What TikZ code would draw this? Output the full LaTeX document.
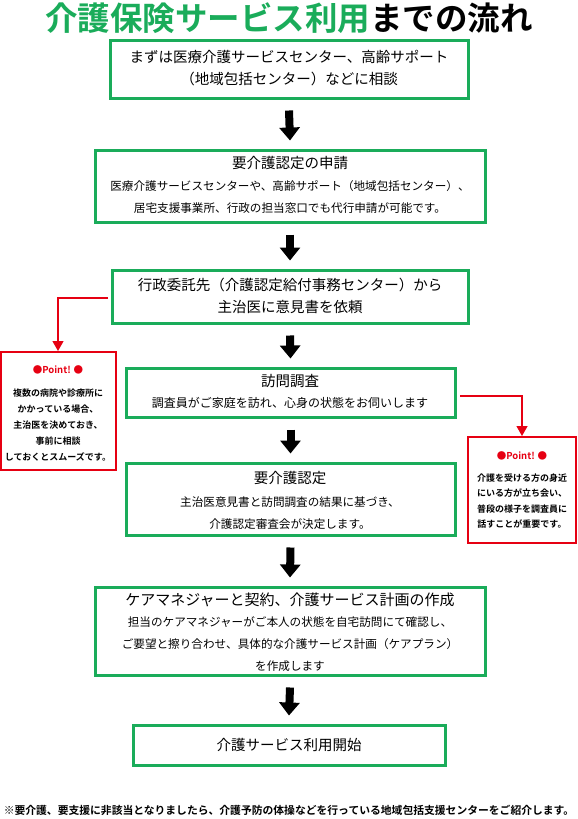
\documentclass[tikz,border=0pt]{standalone}
\usepackage{fontspec}
\setmainfont{Noto Sans CJK JP}[BoldFont={* Bold}]
\usetikzlibrary{arrows.meta}
\definecolor{kgreen}{RGB}{26,172,90}
\definecolor{kred}{RGB}{230,0,18}
\newcommand{\fs}[2]{\fontsize{#1}{#2}\selectfont}
\begin{document}
\begin{tikzpicture}[x=1pt,y=-1pt,
  gbox/.style={draw=kgreen,line width=3pt,inner sep=0pt},
  pbox/.style={draw=kred,line width=2pt,inner sep=0pt},
  ttl/.style={inner sep=0pt,align=center,font=\fs{14.5}{22}},
  sub/.style={inner sep=0pt,align=center,font=\fs{11.6}{22}},
  ptxt/.style={inner sep=0pt,align=center,font=\bfseries\fs{9}{16.2}},
  bigarrow/.style={line width=8pt,-{Triangle[width=20pt,length=13pt]}},
  redline/.style={draw=kred,line width=1.3pt,-{Triangle[width=11pt,length=10pt]}}]
\useasboundingbox (0,0) rectangle (578,819);
% title
\node[inner sep=0pt,font=\bfseries\fs{32.5}{34}] (title) at (289,18.5)
  {\textcolor{kgreen}{介護保険サービス利用}までの流れ};
% boxes
\node[gbox,minimum width=358pt,minimum height=58pt] (b1) at (289,69) {};
\node[gbox,minimum width=390pt,minimum height=72pt] (b2) at (290,186) {};
\node[gbox,minimum width=356pt,minimum height=53pt] (b3) at (290,296.5) {};
\node[gbox,minimum width=329pt,minimum height=49pt] (b4) at (290.5,392.5) {};
\node[gbox,minimum width=329pt,minimum height=72pt] (b5) at (290.5,499) {};
\node[gbox,minimum width=390pt,minimum height=88pt] (b6) at (290,631) {};
\node[gbox,minimum width=312pt,minimum height=40pt] (b7) at (289,745) {};
% texts
\node[ttl] (t1) at (289,68) {まずは医療介護サービスセンター、高齢サポート\\（地域包括センター）などに相談};
\node[ttl] (t2) at (290,163) {要介護認定の申請};
\node[sub] (s2) at (290,197) {医療介護サービスセンターや、高齢サポート（地域包括センター）、\\居宅支援事業所、行政の担当窓口でも代行申請が可能です。};
\node[ttl] (t3) at (290,296) {行政委託先（介護認定給付事務センター）から\\主治医に意見書を依頼};
\node[ttl] (t4) at (290,381) {訪問調査};
\node[sub,font=\fs{12}{22}] (s4) at (290,403) {調査員がご家庭を訪れ、心身の状態をお伺いします};
\node[ttl] (t5) at (290,478) {要介護認定};
\node[sub] (s5) at (290,513) {主治医意見書と訪問調査の結果に基づき、\\介護認定審査会が決定します。};
\node[ttl,font=\fs{15}{22}] (t6) at (290,600) {ケアマネジャーと契約、介護サービス計画の作成};
\node[sub] (s6) at (290,644) {担当のケアマネジャーがご本人の状態を自宅訪問にて確認し、\\ご要望と擦り合わせ、具体的な介護サービス計画（ケアプラン）\\を作成します};
\node[ttl] (t7) at (289,745) {介護サービス利用開始};
% flow arrows
\foreach \a/\b in {b1/b2,b2/b3,b3/b4,b4/b5,b5/b6,b6/b7}
  \draw[bigarrow] ([yshift=-11pt]\a.south) -- ([yshift=8pt]\b.north);
% point boxes
\node[pbox,minimum width=115pt,minimum height=118pt] (p1) at (58,411) {};
\node[pbox,minimum width=108pt,minimum height=106pt] (p2) at (522,490) {};
\node[inner sep=0pt,text=kred,font=\bfseries\fs{9.5}{12}] (p1h) at (58,370) {●Point! ●};
\node[ptxt] (p1t) at (58,425) {複数の病院や診療所に\\かかっている場合、\\主治医を決めておき、\\事前に相談\\しておくとスムーズです。};
\node[inner sep=0pt,text=kred,font=\bfseries\fs{9.5}{12}] (p2h) at (522,456) {●Point! ●};
\node[ptxt,font=\bfseries\fs{9}{15.2}] (p2t) at (522,501) {介護を受ける方の身近\\にいる方が立ち会い、\\普段の様子を調査員に\\話すことが重要です。};
% red connectors
\coordinate (r1) at (108,298);
\coordinate (r2) at (460,396);
\draw[redline] (r1) -| (p1.north);
\draw[redline] (r2) -| (p2.north);
% footer
\node[inner sep=0pt,font=\bfseries\fs{10.8}{12}] (foot) at (289,810) {※要介護、要支援に非該当となりましたら、介護予防の体操などを行っている地域包括支援センターをご紹介します。};
\end{tikzpicture}
\end{document}
